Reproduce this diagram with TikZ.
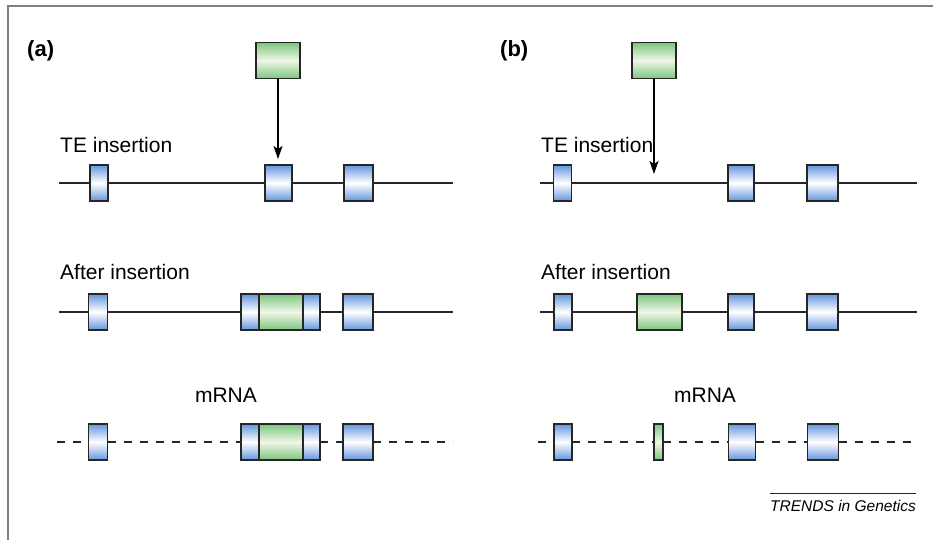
\documentclass[tikz,border=0pt]{standalone}
\usepackage{fontspec}
\setmainfont{Liberation Sans}
\usetikzlibrary{arrows.meta}
\definecolor{exblue}{RGB}{100,150,222}
\definecolor{exgreen}{RGB}{125,198,125}
\definecolor{exgreenlight}{RGB}{240,246,232}
\definecolor{framegray}{RGB}{128,128,128}
\tikzset{
  exon/.style={draw=black!85, line width=1.1pt, minimum height=36pt, inner sep=0pt, outer sep=0pt,
    top color=exblue, bottom color=exblue, middle color=white},
  te/.style={exon, top color=exgreen, bottom color=exgreen, middle color=exgreenlight},
  dna/.style={line width=1.1pt, draw=black!85},
  rna/.style={dna, dash pattern=on 8pt off 8pt},
  lab/.style={font=\fontsize{21}{25}\selectfont, inner sep=0pt, anchor=base west},
  rnalab/.style={font=\fontsize{21}{25}\selectfont, inner sep=0pt, anchor=base},
  panel/.style={font=\bfseries\fontsize{22}{26}\selectfont, inner sep=0pt, anchor=base west},
  ins/.style={draw=black, line width=1.1pt, -{Stealth[length=13pt,width=9pt,inset=3pt]}},
  frame/.style={draw=framegray, line width=2pt},
}
\begin{document}
\begin{tikzpicture}[x=1pt,y=-1pt]
\useasboundingbox (0,0) rectangle (933,540);
\fill[white] (0,0) rectangle (933,540);
\draw[frame] (8,540) -- (8,6) -- (933,6);

% ---------------- panel (a) ----------------
\node[panel] (pa) at (27,57) {(a)};
\node[te, minimum width=44pt] (ga) at (278,60.5) {};
\node[lab] (ta1) at (60,153) {TE insertion};
\coordinate (tipa) at (278,159);
\draw[ins] (ga) -- (tipa);
% row 1
\coordinate (a1s) at (59,183);
\coordinate (a1t) at (453,183);
\node[exon, minimum width=18pt] (a1e1) at (99,183) {};
\node[exon, minimum width=27pt] (a1e2) at (278.5,183) {};
\node[exon, minimum width=29pt] (a1e3) at (358.5,183) {};
\draw[dna] (a1s) -- (a1e1.west) (a1e1.east) -- (a1e2.west) (a1e2.east) -- (a1e3.west) (a1e3.east) -- (a1t);
% row 2
\node[lab] (ta2) at (60,279) {After insertion};
\coordinate (a2s) at (59,312);
\coordinate (a2t) at (453,312);
\node[exon, minimum width=19pt] (a2e1) at (98,312) {};
\node[exon, minimum width=18pt] (a2c1) at (250,312) {};
\node[te, minimum width=44pt, anchor=west] (a2c2) at (a2c1.east) {};
\node[exon, minimum width=17pt, anchor=west] (a2c3) at (a2c2.east) {};
\node[exon, minimum width=30pt] (a2e3) at (358,312) {};
\draw[dna] (a2s) -- (a2e1.west) (a2e1.east) -- (a2c1.west) (a2c3.east) -- (a2e3.west) (a2e3.east) -- (a2t);
% row 3
\node[rnalab] (ta3) at (226,402) {mRNA};
\coordinate (a3s) at (57,442);
\coordinate (a3t) at (453,442);
\node[exon, minimum width=19pt] (a3e1) at (98,442) {};
\node[exon, minimum width=18pt] (a3c1) at (250,442) {};
\node[te, minimum width=44pt, anchor=west] (a3c2) at (a3c1.east) {};
\node[exon, minimum width=17pt, anchor=west] (a3c3) at (a3c2.east) {};
\node[exon, minimum width=30pt] (a3e3) at (358,442) {};
\draw[rna] (a3s) -- (a3e1.west) (a3e1.east) -- (a3c1.west) (a3c3.east) -- (a3e3.west) (a3e3.east) -- (a3t);

% ---------------- panel (b) ----------------
\node[panel] (pb) at (500,57) {(b)};
\node[te, minimum width=44pt] (gb) at (654,60.5) {};
\node[lab] (tb1) at (541,153) {TE insertion};
\coordinate (tipb) at (654,174);
\draw[ins] (gb) -- (tipb);
% row 1
\coordinate (b1s) at (540,183);
\coordinate (b1t) at (917,183);
\node[exon, minimum width=18pt] (b1e1) at (562.5,183) {};
\node[exon, minimum width=26pt] (b1e2) at (741,183) {};
\node[exon, minimum width=31pt] (b1e3) at (822.5,183) {};
\draw[dna] (b1s) -- (b1e1.west) (b1e1.east) -- (b1e2.west) (b1e2.east) -- (b1e3.west) (b1e3.east) -- (b1t);
% row 2
\node[lab] (tb2) at (541,279) {After insertion};
\coordinate (b2s) at (540,312);
\coordinate (b2t) at (917,312);
\node[exon, minimum width=18pt] (b2e1) at (563,312) {};
\node[te, minimum width=45pt] (b2g) at (659.5,312) {};
\node[exon, minimum width=26pt] (b2e2) at (741,312) {};
\node[exon, minimum width=31pt] (b2e3) at (822.5,312) {};
\draw[dna] (b2s) -- (b2e1.west) (b2e1.east) -- (b2g.west) (b2g.east) -- (b2e2.west) (b2e2.east) -- (b2e3.west) (b2e3.east) -- (b2t);
% row 3
\node[rnalab] (tb3) at (705,402) {mRNA};
\coordinate (b3s) at (538,442);
\coordinate (b3t) at (917,442);
\node[exon, minimum width=18pt] (b3e1) at (563,442) {};
\node[te, minimum width=9pt] (b3g) at (658.5,442) {};
\node[exon, minimum width=27pt] (b3e2) at (742,442) {};
\node[exon, minimum width=31pt] (b3e3) at (823,442) {};
\draw[rna] (b3s) -- (b3e1.west) (b3e1.east) -- (b3g.west) (b3g.east) -- (b3e2.west) (b3e2.east) -- (b3e3.west) (b3e3.east) -- (b3t);

% ---------------- credit ----------------
\node[font=\itshape\fontsize{15.5}{18}\selectfont, inner sep=0pt, anchor=base east] (cred) at (916,511) {TRENDS in Genetics};
\draw[line width=0.9pt, black!85] (cred.west |- 0,493) -- (cred.east |- 0,493);
\end{tikzpicture}
\end{document}
